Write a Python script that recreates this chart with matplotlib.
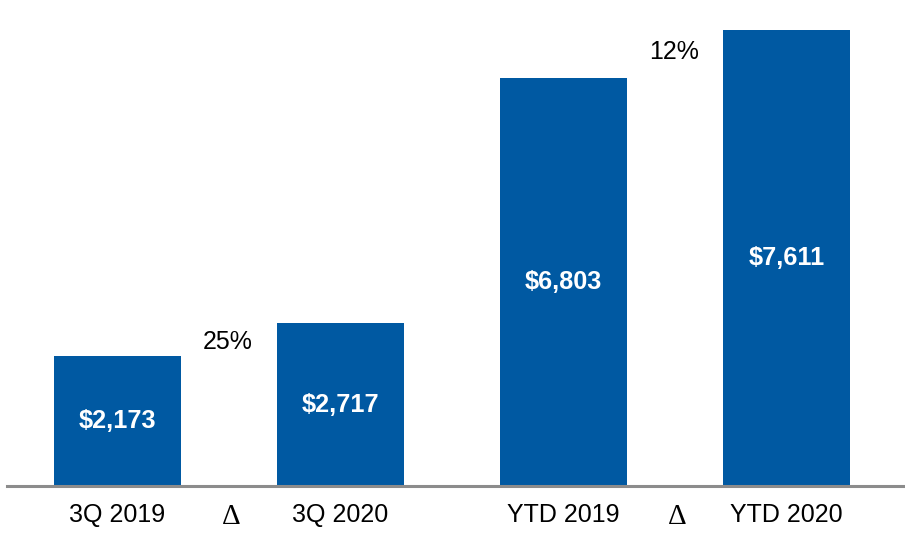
import matplotlib
matplotlib.use("Agg")
import matplotlib.pyplot as plt

categories = ["3Q 2019", "3Q 2020", "YTD 2019", "YTD 2020"]
values = [2173, 2717, 6803, 7611]
value_labels = ["$2,173", "$2,717", "$6,803", "$7,611"]
pct_labels = ["25%", "12%"]
delta_symbol = "\u0394"

W, H = 905, 542
fig = plt.figure(figsize=(W / 100, H / 100), dpi=100)
left_px, base_px = 7, 486
ax = fig.add_axes([left_px / W, (H - base_px) / H, 1 - left_px / W, base_px / H])

bar_color = "#0059A2"
x = list(range(len(categories)))
ax.bar(x, values, width=0.57, color=bar_color, zorder=2)

ax.set_xlim(-0.4955, 3.531)
ax.set_ylim(0, 8112)
for s in ["top", "right", "left"]:
    ax.spines[s].set_visible(False)
ax.spines["bottom"].set_color("#8c8c8c")
ax.spines["bottom"].set_linewidth(2.2)
ax.set_xticks([])
ax.set_yticks([])

font = "Liberation Sans"
for xi, v, lab in zip(x, values, value_labels):
    ax.text(xi, v / 2, lab, ha="center", va="center", color="white",
            fontsize=18.2, fontweight="bold", family=font)

xt = ax.get_xaxis_transform()
for xi, c in zip(x, categories):
    ax.text(xi, -0.0597, c, ha="center", va="center", fontsize=18,
            family=font, transform=xt, color="black")

# delta markers and percentages between pairs
pairs = [(0, 1), (2, 3)]
pct_y = [2404, 7244]
for (a, b), p, py in zip(pairs, pct_labels, pct_y):
    mid = (a + b) / 2
    ax.text(mid + 0.01, -0.063, delta_symbol, ha="center", va="center",
            fontsize=21, family="Liberation Serif", transform=xt)
    ax.text(mid - 0.005, py, p, ha="center", va="center", fontsize=18,
            family=font, color="black")

fig.savefig("out.png", dpi=100)
